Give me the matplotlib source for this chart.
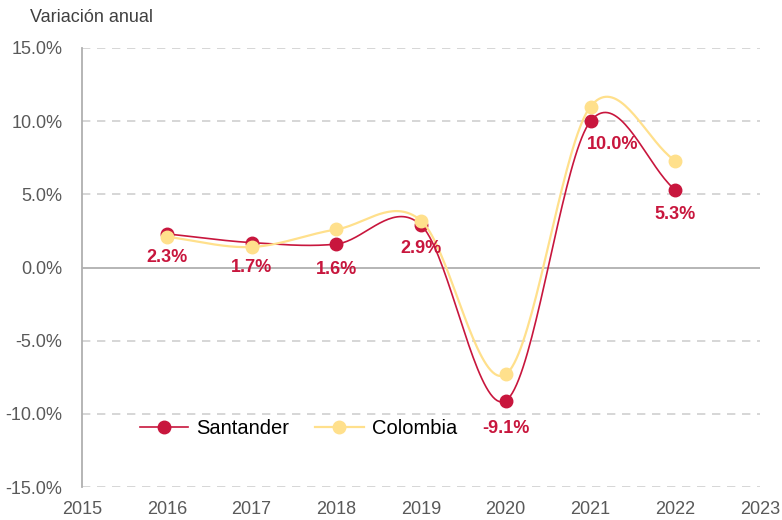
import matplotlib.pyplot as plt
import numpy as np
from matplotlib import font_manager

years = [2016, 2017, 2018, 2019, 2020, 2021, 2022]
santander = [2.3, 1.7, 1.6, 2.9, -9.1, 10.0, 5.3]
colombia = [2.1, 1.4, 2.6, 3.2, -7.3, 11.0, 7.3]
labels_sant = ["2.3%", "1.7%", "1.6%", "2.9%", "-9.1%", "10.0%", "5.3%"]
yticks = [-15, -10, -5, 0, 5, 10, 15]
xticks = list(range(2015, 2024))

names = {f.name for f in font_manager.fontManager.ttflist}
narrow = "Liberation Sans Narrow" if "Liberation Sans Narrow" in names else "Liberation Sans"
plt.rcParams['font.family'] = [narrow, 'DejaVu Sans']

red = "#C8163D"
yellow = "#FFE08C"


def smooth(x, y, n=40):
    # catmull-rom style curve through the points (like excel smoothed lines)
    x = np.asarray(x, float)
    y = np.asarray(y, float)
    m = np.zeros_like(y)
    m[1:-1] = (y[2:] - y[:-2]) / (x[2:] - x[:-2])
    m[0] = (y[1] - y[0]) / (x[1] - x[0])
    m[-1] = (y[-1] - y[-2]) / (x[-1] - x[-2])
    xs, ys = [], []
    for i in range(len(x) - 1):
        h = x[i + 1] - x[i]
        t = np.linspace(0, 1, n)
        h00 = 2 * t**3 - 3 * t**2 + 1
        h10 = t**3 - 2 * t**2 + t
        h01 = -2 * t**3 + 3 * t**2
        h11 = t**3 - t**2
        xs.append(x[i] + t * h)
        ys.append(h00 * y[i] + h10 * h * m[i] + h01 * y[i + 1] + h11 * h * m[i + 1])
    return np.concatenate(xs), np.concatenate(ys)


fig = plt.figure(figsize=(7.82, 5.2), dpi=100)
ax = fig.add_axes([82 / 782, 33 / 520, (760 - 82) / 782, (487 - 48) / 520])

for v in yticks:
    if v == 0:
        ax.axhline(0, color="#B0B0B0", lw=1.3, zorder=1)
    else:
        ax.axhline(v, color="#D0D0D0", lw=1.2, ls=(0, (5, 4)), zorder=0)

sx, sy = smooth(years, santander)
ax.plot(sx, sy, color=red, lw=1.2, zorder=2)
ax.plot(years, santander, 'o', color=red, ms=9, zorder=3)
sx, sy = smooth(years, colombia)
ax.plot(sx, sy, color=yellow, lw=1.6, zorder=4)
ax.plot(years, colombia, 'o', color=yellow, ms=9, zorder=5)

# legend entries
ax.plot([], [], '-o', color=red, ms=9, lw=1.2, label="Santander")
ax.plot([], [], '-o', color=yellow, ms=9, lw=1.6, label="Colombia")
ax.legend(loc="center left", bbox_to_anchor=(0.085, 0.134), ncol=2, frameon=False,
          fontsize=14.5, handlelength=2.4, columnspacing=1.3, handletextpad=0.4,
          borderpad=0, borderaxespad=0)

offsets = [(0, -17), (0, -18), (0, -18), (0, -17), (0, -20), (16, -17), (0, -18)]
for x, y, s, o in zip(years, santander, labels_sant, offsets):
    ax.annotate(s, (x, y), xytext=o, textcoords="offset points", ha="center", va="center",
                color=red, fontsize=13, fontweight="bold", zorder=6)

ax.set_xlim(2015, 2023)
ax.set_ylim(-15, 15)
ax.set_xticks(xticks)
ax.set_yticks(yticks)
ax.set_yticklabels([f"{v:.1f}%" for v in yticks])
for s in ["top", "right", "bottom"]:
    ax.spines[s].set_visible(False)
ax.spines["left"].set_color("#B0B0B0")
ax.spines["left"].set_linewidth(1.3)
ax.tick_params(axis="both", length=0, labelsize=13, labelcolor="#595959")
ax.tick_params(axis="x", pad=10)
ax.tick_params(axis="y", pad=14)

fig.text(30 / 782, 1 - 18 / 520, "Variación anual", fontsize=13, color="#404040", va="center")

fig.savefig("out.png", dpi=100)
